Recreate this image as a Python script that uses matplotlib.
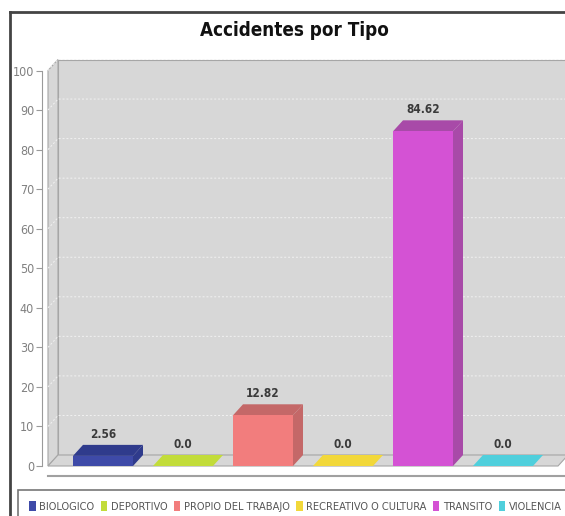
import matplotlib
matplotlib.use("Agg")
import matplotlib.pyplot as plt
from matplotlib import font_manager
from matplotlib.patches import Polygon
from matplotlib.lines import Line2D

# ── data ────────────────────────────────────────────────────────────────
tipos = ['BIOLOGICO', 'DEPORTIVO', 'PROPIO DEL TRABAJO',
         'RECREATIVO O CULTURA', 'TRANSITO', 'VIOLENCIA']
porcentajes = [2.56, 0.0, 12.82, 0.0, 84.62, 0.0]
etiquetas = ['2.56', '0.0', '12.82', '0.0', '84.62', '0.0']
y_ticks = list(range(0, 101, 10))

# ── styles ──────────────────────────────────────────────────────────────
caras = ['#3e4aa8', '#c2dc3a', '#f27d7d', '#f2d83a', '#d452d4', '#4fcfdc']
sombras = ['#2f3b8c', '#c2dc3a', '#c46868', '#f2d83a', '#a84aa8', '#4fcfdc']
gris_fondo = '#d7d7d7'
gris_borde = '#a6a6a6'

nombres = {f.name for f in font_manager.fontManager.ttflist}
if 'Liberation Sans Narrow' in nombres:
    fuente = dict(family='Liberation Sans Narrow')
else:
    fuente = dict(family='DejaVu Sans', stretch='condensed')

W, H = 565, 516
fig = plt.figure(figsize=(W / 100, H / 100), dpi=100)
fig.patch.set_facecolor('white')

# front plane of the 3D plot, in pixels
px_l, px_r, px_top, px_bot = 48, 558, 70.5, 466
ax = fig.add_axes([px_l / W, (H - px_bot) / H, (px_r - px_l) / W, (px_bot - px_top) / H])
xl, xr = -0.6875, 5.6875
ax.set_xlim(xl, xr)
ax.set_ylim(0, 100)
ax.patch.set_visible(False)
dx = 10 / 80.0
dy = 11 / ((px_bot - px_top) / 100.0)

# walls: back, left, floor
pared = [(xl + dx, dy), (xr + dx, dy), (xr + dx, 100 + dy), (xl + dx, 100 + dy)]
izq = [(xl, 0), (xl + dx, dy), (xl + dx, 100 + dy), (xl, 100)]
piso = [(xl, 0), (xr, 0), (xr + dx, dy), (xl + dx, dy)]
for pts in (pared, izq, piso):
    ax.add_patch(Polygon(pts, closed=True, facecolor=gris_fondo, edgecolor=gris_borde,
                         lw=0.8, clip_on=False, zorder=0))

# gridlines on the back wall
for v in y_ticks[1:]:
    ax.plot([xl, xl + dx, xr + dx], [v, v + dy, v + dy], color='#f2f2f2', lw=0.7,
            ls=(0, (2, 2)), clip_on=False, zorder=1)

# bars
x = list(range(len(tipos)))
ancho = 0.75
barras = ax.bar(x, porcentajes, width=ancho, color=caras, zorder=3, clip_on=False)
for i, h in enumerate(porcentajes):
    x0, x1 = i - ancho / 2, i + ancho / 2
    lado = [(x1, 0), (x1, h), (x1 + dx, h + dy), (x1 + dx, dy)]
    tapa = [(x0, h), (x1, h), (x1 + dx, h + dy), (x0 + dx, h + dy)]
    ax.add_patch(Polygon(lado, closed=True, facecolor=sombras[i], edgecolor='none',
                         clip_on=False, zorder=2))
    ax.add_patch(Polygon(tapa, closed=True, facecolor=sombras[i], edgecolor='none',
                         clip_on=False, zorder=2))
    ax.text(i, h + dy + 1.8, etiquetas[i], ha='center', va='baseline', fontsize=8.5,
            fontweight='bold', color='#3a3a3a', **fuente)

# axes
for s in ('top', 'right'):
    ax.spines[s].set_visible(False)
ax.spines['left'].set_position(('outward', 4))
ax.spines['left'].set_color('#9a9a9a')
ax.spines['bottom'].set_position(('outward', 7))
ax.spines['bottom'].set_color('#a0a0a0')
ax.spines['bottom'].set_linewidth(1.5)
ax.spines['bottom'].set_bounds(xl, xr + dx)
ax.set_xticks([])
ax.set_yticks(y_ticks)
ax.tick_params(axis='y', length=4, width=0.8, color='#9a9a9a', labelcolor='#808080',
               pad=2, labelsize=9)
for lab in ax.get_yticklabels():
    lab.set_family(fuente['family'])
    if 'stretch' in fuente:
        lab.set_stretch(fuente['stretch'])

# title
fig.text(294 / W, 1 - 31 / H, 'Accidentes por Tipo', ha='center', va='center',
         fontsize=13.5, fontweight='bold', color='#111111', **fuente)

# legend
leg = fig.legend(barras, tipos, loc='upper left', bbox_to_anchor=(18 / W, 1 - 490 / H),
                 ncol=6, frameon=True, fancybox=False, borderaxespad=0,
                 handlelength=0.6, handleheight=1.0, handletextpad=0.35,
                 columnspacing=0.55, borderpad=1.0,
                 prop=dict(size=7.9, **fuente))
leg.get_frame().set_edgecolor('#555555')
leg.get_frame().set_linewidth(1.2)
for t in leg.get_texts():
    t.set_color('#555555')

# outer border of the page panel
fig.add_artist(Line2D([10 / W, 10 / W], [0, 1 - 12 / H], transform=fig.transFigure,
                      color='#444444', lw=2))
fig.add_artist(Line2D([10 / W, 1], [1 - 12 / H, 1 - 12 / H], transform=fig.transFigure,
                      color='#444444', lw=2))

fig.savefig('out.png', dpi=100)
